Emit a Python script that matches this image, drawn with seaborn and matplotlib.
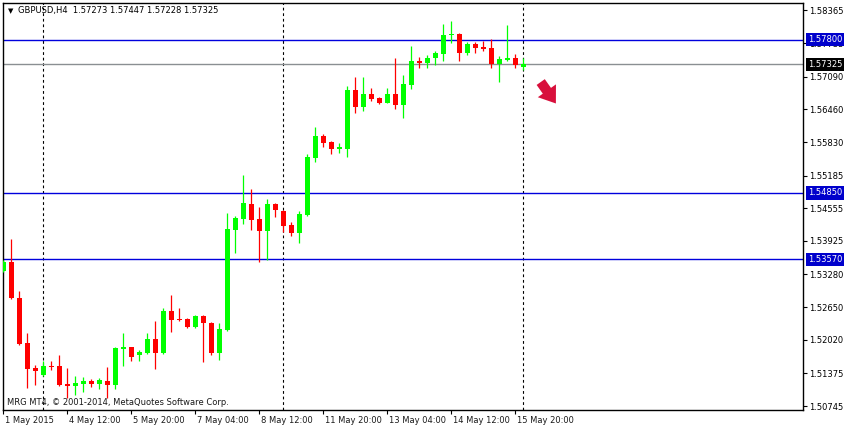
import numpy as np
import pandas as pd
import matplotlib
matplotlib.use("Agg")
import matplotlib.pyplot as plt
import matplotlib.transforms as mtransforms
import seaborn as sns

# GBPUSD H4 candles, 1 May 2015 .. 18 May 2015 00:00
opens = [1.53349, 1.53523, 1.52829, 1.51960, 1.51478, 1.51343, 1.51517, 1.51517, 1.51169, 1.51131,
         1.51169, 1.51227, 1.51169, 1.51227, 1.51150, 1.51845, 1.51883, 1.51729, 1.51768, 1.52037,
         1.51768, 1.52578, 1.52423, 1.52423, 1.52269, 1.52481, 1.52346, 1.51768, 1.52211, 1.54140,
         1.54352, 1.54642, 1.54352, 1.54121, 1.54642, 1.54507, 1.54237, 1.54082, 1.54430, 1.55529,
         1.55954, 1.55838, 1.55703, 1.55703, 1.56841, 1.56513, 1.56764, 1.56687, 1.56590, 1.56764,
         1.56552, 1.56937, 1.57400, 1.57362, 1.57458, 1.57535, 1.57902, 1.57921, 1.57555, 1.57728,
         1.57670, 1.57651, 1.57343, 1.57420, 1.57458, 1.57273]
highs = [1.53562, 1.53967, 1.52964, 1.52153, 1.51536, 1.51613, 1.51613, 1.51729, 1.51478, 1.51324,
         1.51304, 1.51266, 1.51285, 1.51497, 1.51883, 1.52153, 1.51890, 1.51825, 1.52153, 1.52385,
         1.52636, 1.52887, 1.52636, 1.52443, 1.52501, 1.52501, 1.52365, 1.52346, 1.54468, 1.54410,
         1.55201, 1.54931, 1.54584, 1.54738, 1.54661, 1.54526, 1.54294, 1.54507, 1.55606, 1.56127,
         1.55992, 1.55857, 1.55819, 1.56918, 1.57092, 1.57092, 1.56880, 1.56706, 1.56880, 1.57458,
         1.57130, 1.57690, 1.57478, 1.57516, 1.57593, 1.58114, 1.58153, 1.57941, 1.57767, 1.57767,
         1.57786, 1.57825, 1.57497, 1.58095, 1.57535, 1.57447]
lows = [1.53330, 1.52809, 1.51922, 1.51092, 1.51150, 1.51324, 1.51440, 1.51131, 1.50899, 1.50957,
        1.51015, 1.51112, 1.51073, 1.50899, 1.51073, 1.51517, 1.51613, 1.51613, 1.51748, 1.51459,
        1.51748, 1.52172, 1.52385, 1.52250, 1.52250, 1.51594, 1.51729, 1.51633, 1.52192, 1.53697,
        1.54256, 1.54140, 1.53523, 1.53562, 1.54391, 1.54102, 1.54025, 1.53890, 1.54410, 1.55452,
        1.55741, 1.55606, 1.55626, 1.55549, 1.56397, 1.56436, 1.56629, 1.56571, 1.56580, 1.56474,
        1.56301, 1.56860, 1.57265, 1.57265, 1.57323, 1.57400, 1.57748, 1.57400, 1.57516, 1.57555,
        1.57593, 1.57265, 1.56995, 1.57400, 1.57265, 1.57228]
closes = [1.53523, 1.52829, 1.51941, 1.51459, 1.51420, 1.51517, 1.51497, 1.51150, 1.51131, 1.51189,
          1.51227, 1.51169, 1.51247, 1.51150, 1.51864, 1.51883, 1.51690, 1.51787, 1.52037, 1.51768,
          1.52578, 1.52404, 1.52404, 1.52269, 1.52481, 1.52346, 1.51768, 1.52230, 1.54159, 1.54372,
          1.54661, 1.54333, 1.54121, 1.54642, 1.54526, 1.54217, 1.54082, 1.54449, 1.55549, 1.55954,
          1.55819, 1.55703, 1.55741, 1.56841, 1.56513, 1.56764, 1.56667, 1.56590, 1.56764, 1.56552,
          1.56957, 1.57400, 1.57362, 1.57458, 1.57555, 1.57902, 1.57921, 1.57555, 1.57728, 1.57651,
          1.57632, 1.57343, 1.57439, 1.57458, 1.57323, 1.57325]

time_tick_bars = [0, 8, 16, 24, 32, 40, 48, 56, 64]
time_tick_labels = ["1 May 2015", "4 May 12:00", "5 May 20:00", "7 May 04:00", "8 May 12:00",
                    "11 May 20:00", "13 May 04:00", "14 May 12:00", "15 May 20:00"]
price_ticks = [1.58365, 1.57735, 1.57090, 1.56460, 1.55830, 1.55185, 1.54555,
               1.53925, 1.53280, 1.52650, 1.52020, 1.51375, 1.50745]
levels = [1.57800, 1.54850, 1.53570]
bid = 1.57325
week_starts = [5, 35, 65]
header = "GBPUSD,H4  1.57273 1.57447 1.57228 1.57325"
copyright_text = "MRG MT4, \u00a9 2001-2014, MetaQuotes Software Corp."

sns.set_style("white")
plt.rcParams['font.family'] = ['DejaVu Sans']

W, H = 846, 428
fig = plt.figure(figsize=(W / 100, H / 100), dpi=100)
ax = fig.add_axes([2.5 / W, 1 - 410 / H, (803 - 2.5) / W, (410 - 2.5) / H])

df = pd.DataFrame({"open": opens, "high": highs, "low": lows, "close": closes})
df["bar"] = np.arange(len(df))
up = df["close"] >= df["open"]
colors = np.where(up, "#00ff00", "#ff0000")

# wicks and bodies
ax.vlines(df["bar"], df["low"], df["high"], colors=colors, linewidth=0.9, zorder=3)
body = np.maximum((df["close"] - df["open"]).abs(), 0.00019)
ax.bar(df["bar"], body, bottom=df[["open", "close"]].min(axis=1), width=0.6,
       color=colors, linewidth=0, zorder=3)

# support / resistance lines, bid line, week separators
for lv in levels:
    ax.axhline(lv, color="#0000dd", linewidth=1, zorder=2)
ax.axhline(bid, color="#8a8f92", linewidth=1, zorder=2)
for b in week_starts:
    ax.axvline(b, color="black", linewidth=0.8, linestyle=(0, (2.5, 2.5)), zorder=1)

ax.set_xlim(-0.1, 100)
ax.set_ylim(1.50668, 1.58519)

# axes styling
for sp in ax.spines.values():
    sp.set_color("black")
    sp.set_linewidth(1)
ax.yaxis.tick_right()
ax.set_yticks(price_ticks)
ax.set_yticklabels([f"{p:.5f}" for p in price_ticks])
ax.set_xticks(time_tick_bars)
ax.set_xticklabels(time_tick_labels)
ax.tick_params(axis="both", direction="out", length=3, width=0.8, colors="black",
               labelsize=6, pad=1.5)
ax.tick_params(axis="y", left=False, right=True)
ax.tick_params(axis="x", bottom=True)
offset = mtransforms.ScaledTranslation(2 / 100, 0, fig.dpi_scale_trans)
for lab in ax.get_xticklabels():
    lab.set_ha("left")
    lab.set_color("#1a1a1a")
    lab.set_transform(lab.get_transform() + offset)

# price labels on the right scale
for lv in levels:
    ax.annotate(f"{lv:.5f}", xy=(1, lv), xycoords=("axes fraction", "data"),
                xytext=(3.5, 0), textcoords="offset points", ha="left", va="center",
                fontsize=6, color="white", zorder=5, annotation_clip=False,
                bbox=dict(boxstyle="square,pad=0.25", fc="#0000cc", ec="none"))
ax.annotate(f"{bid:.5f}", xy=(1, bid), xycoords=("axes fraction", "data"),
            xytext=(3.5, 0), textcoords="offset points", ha="left", va="center",
            fontsize=6, color="white", zorder=5, annotation_clip=False,
            bbox=dict(boxstyle="square,pad=0.25", fc="black", ec="none"))

# red down arrow after the last bar
n = len(df) - 1
ax.annotate("", xy=(n + 4.3, 1.56530), xytext=(n + 2.0, 1.57030),
            arrowprops=dict(arrowstyle="simple,head_length=0.7,head_width=1.0,tail_width=0.45",
                            fc="#d8103c", ec="none", mutation_scale=16), zorder=4)

# header and copyright
fig.text(8 / W, 1 - 11 / H, "\u25bc", fontsize=5, va="center", ha="left", color="black")
fig.text(18 / W, 1 - 11 / H, header, fontsize=6, va="center", ha="left", color="black")
fig.text(7 / W, 1 - 402.5 / H, copyright_text, fontsize=6, va="center", ha="left", color="#1a1a1a")

fig.savefig("out.png", dpi=100)
